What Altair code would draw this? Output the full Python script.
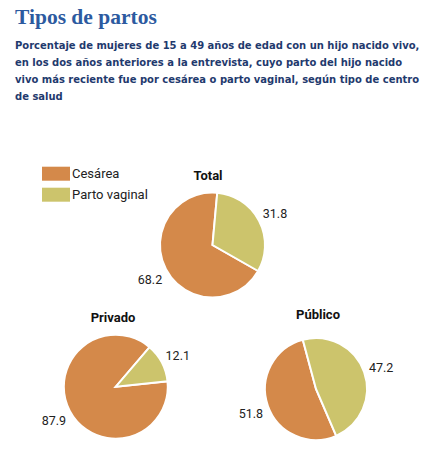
import math
import altair as alt
import pandas as pd

# ---------------- data ----------------
grupos = ["Total", "Privado", "Público"]
tipos = ["Cesárea", "Parto vaginal"]
cesarea = [68.2, 87.9, 51.8]
parto_vaginal = [31.8, 12.1, 47.2]
colores = ["#D4894A", "#CCC46C"]

titulo = "Tipos de partos"
subtitulo = [
    "Porcentaje de mujeres de 15 a 49 años de edad con un hijo nacido vivo,",
    "en los dos años anteriores a la entrevista, cuyo parto del hijo nacido",
    "vivo más reciente fue por cesárea o parto vaginal, según tipo de centro",
    "de salud",
]

# ---------------- layout (pixels / degrees) ----------------
disposicion = {
    "Total":   {"cx": 212.5, "cy": 245.0, "r": 52.5, "inicio": 5.2,   "tx": 208, "ty": 176},
    "Privado": {"cx": 115.8, "cy": 386.7, "r": 52.0, "inicio": 40.5,  "tx": 113, "ty": 318},
    "Público": {"cx": 316.0, "cy": 389.0, "r": 51.0, "inicio": 345.0, "tx": 318, "ty": 315},
}

registros = []
for g, c, v in zip(grupos, cesarea, parto_vaginal):
    registros.append({"grupo": g, "tipo": tipos[0], "valor": c})
    registros.append({"grupo": g, "tipo": tipos[1], "valor": v})
datos = pd.DataFrame(registros)

leyenda = alt.Legend(
    title=None, orient="none", legendX=49, legendY=166.7,
    symbolType="M-2,-1H2V1H-2Z", symbolSize=196, symbolStrokeWidth=0,
    labelFont="Roboto", labelFontSize=13, labelColor="#222222",
    labelOffset=9, rowPadding=7, padding=0,
)
color = alt.Color("tipo:N", scale=alt.Scale(domain=tipos, range=colores), legend=leyenda)

capas = []
for g in grupos:
    d = disposicion[g]
    ini = math.radians(d["inicio"])
    base = alt.Chart(datos).transform_filter(alt.datum.grupo == g).encode(
        theta=alt.Theta("valor:Q", stack=True,
                        scale=alt.Scale(range=[ini, ini + 2 * math.pi])),
        order=alt.Order("tipo:N", sort="descending"),
        x=alt.value(d["cx"]),
        y=alt.value(d["cy"]),
    )
    arco = base.mark_arc(outerRadius=d["r"], stroke="white", strokeWidth=2).encode(color=color)
    etiqueta = base.mark_text(radius=d["r"] + 18, font="Roboto", fontSize=12.5,
                              color="#222222", dy=2).encode(
        text=alt.Text("valor:Q", format=".1f"))
    titulo_pie = alt.Chart(pd.DataFrame({"grupo": [g]})).mark_text(
        font="Roboto", fontWeight="bold", fontSize=13, color="#111111"
    ).encode(text="grupo:N", x=alt.value(d["tx"]), y=alt.value(d["ty"]))
    capas.append(alt.layer(arco, etiqueta, titulo_pie))

titulo_txt = alt.Chart(pd.DataFrame({"t": [titulo]})).mark_text(
    font="Liberation Serif", fontWeight="bold", fontSize=21.5, color="#2C5AA0",
    align="left", baseline="alphabetic",
).encode(text="t:N", x=alt.value(15), y=alt.value(24))

subtitulo_txt = alt.Chart(pd.DataFrame({"t": ["\n".join(subtitulo)]})).mark_text(
    font="DejaVu Sans Condensed, sans-serif",
    fontWeight="bold", fontSize=11.1, color="#1F3A6E",
    align="left", baseline="alphabetic", lineBreak="\n", lineHeight=17,
).encode(text="t:N", x=alt.value(15), y=alt.value(49))

chart = alt.layer(titulo_txt, subtitulo_txt, *capas).resolve_scale(
    theta="independent"
).properties(
    width=442, height=463,
    autosize=alt.AutoSizeParams(type="none"),
    padding=0,
).configure_view(stroke=None)

chart.save("out.html", embed_options={"renderer": "svg", "actions": False})
